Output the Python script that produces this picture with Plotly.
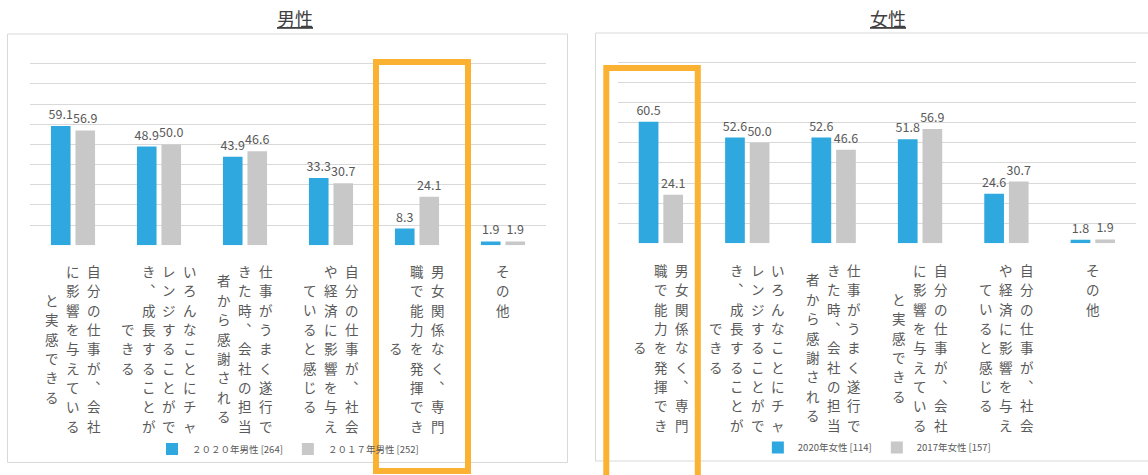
import plotly.graph_objects as go

W, H = 1148, 475

# ---------------- data ----------------
male_categories = [
    "自分の仕事が、会社に影響を与えていると実感できる",
    "いろんなことにチャレンジすることができ、成長することができる",
    "仕事がうまく遂行できた時、会社の担当者から感謝される",
    "自分の仕事が、社会や経済に影響を与えていると感じる",
    "男女関係なく、専門職で能力を発揮できる",
    "その他",
]
male_2020 = [59.1, 48.9, 43.9, 33.3, 8.3, 1.9]
male_2017 = [56.9, 50.0, 46.6, 30.7, 24.1, 1.9]

female_categories = [
    "男女関係なく、専門職で能力を発揮できる",
    "いろんなことにチャレンジすることができ、成長することができる",
    "仕事がうまく遂行できた時、会社の担当者から感謝される",
    "自分の仕事が、会社に影響を与えていると実感できる",
    "自分の仕事が、社会や経済に影響を与えていると感じる",
    "その他",
]
female_2020 = [60.5, 52.6, 52.6, 51.8, 24.6, 1.8]
female_2017 = [24.1, 50.0, 46.6, 56.9, 30.7, 1.9]

male_series = ["２０２０年男性 [264]", "２０１７年男性 [252]"]
female_series = ["2020年女性 [114]", "2017年女性 [157]"]
panel_titles = ["男性", "女性"]
y_ticks = list(range(0, 101, 10))

# ---------------- style ----------------
BLUE = "#2ea8df"
GRAY = "#c9c8c8"
ORANGE = "#fbb131"
TXT = "#595959"
GRID = "#d9d9d9"
FONT = "Noto Sans CJK JP"


def px(x):
    return x / W


def py(y):
    return 1 - y / H


fig = go.Figure()


def add_bars(cats, v20, v17, names, xa, ya, leg):
    for vals, name, col in ((v20, names[0], BLUE), (v17, names[1], GRAY)):
        fig.add_trace(go.Bar(
            x=cats, y=vals, name=name, marker=dict(color=col, line=dict(width=0)),
            xaxis=xa, yaxis=ya, legend=leg,
            texttemplate="%{y:.1f}", textposition="outside",
            outsidetextfont=dict(size=12.5, color=TXT, family=FONT),
            constraintext="none", cliponaxis=False, hoverinfo="x+y+name",
        ))


add_bars(male_categories, male_2020, male_2017, male_series, "x", "y", "legend")
add_bars(female_categories, female_2020, female_2017, female_series, "x2", "y2", "legend2")

# panel geometry (pixels)
panels = [
    dict(x0=30, x1=546, y0=245.3, y1=43.5, xa="x", top=261.0, tx=295, ty=18,
         box=(7.5, 34, 567.5, 462.5), leg_y=449),
    dict(x0=617.7, x1=1136, y0=243.3, y1=42.3, xa="x2", top=260.0, tx=888, ty=18,
         box=(595.5, 33, 1170, 461), leg_y=447.5),
]

axis_common = dict(showticklabels=False, showgrid=False, showline=False, ticks="",
                   zeroline=False, fixedrange=True)
yaxis_common = dict(range=[0, 100], tickvals=y_ticks, showticklabels=False, showgrid=True,
                    gridcolor=GRID, gridwidth=1, zeroline=False, showline=False, ticks="",
                    fixedrange=True)

layout_axes = {}
for i, p in enumerate(panels):
    sx = "" if i == 0 else "2"
    layout_axes["xaxis" + sx] = dict(domain=[px(p["x0"]), px(p["x1"])], anchor="y" + sx, **axis_common)
    layout_axes["yaxis" + sx] = dict(domain=[py(p["y0"]), py(p["y1"])], anchor="x" + sx, **yaxis_common)

annotations = []
shapes = []

# titles and boxes
for title, p in zip(panel_titles, panels):
    annotations.append(dict(text="<u>" + title + "</u>", x=px(p["tx"]), y=py(p["ty"]),
                            xref="paper", yref="paper", showarrow=False,
                            font=dict(size=18, color="#404040", family=FONT),
                            xanchor="center", yanchor="middle"))
    bx0, by0, bx1, by1 = p["box"]
    shapes.append(dict(type="rect", xref="paper", yref="paper", x0=px(bx0), x1=px(bx1),
                       y0=py(by0), y1=py(by1), line=dict(color=GRID, width=1), layer="below"))

# vertical (tategaki) category labels
PITCH = 19.4
COLGAP = 20.7
WRAP = 9
for cats, p in ((male_categories, panels[0]), (female_categories, panels[1])):
    for cat in cats:
        cols = [cat[k:k + WRAP] for k in range(0, len(cat), WRAP)]
        n = len(cols)
        maxlen = max(len(c) for c in cols)
        for j, col in enumerate(cols):
            xoff = ((n - 1) / 2 - j) * COLGAP
            start = p["top"] + (maxlen - len(col)) / 2 * PITCH
            for i, ch in enumerate(col):
                glyph = "︑" if ch == "、" else ch
                yc = start + i * PITCH + PITCH / 2
                annotations.append(dict(text=glyph, x=cat, xref=p["xa"], xshift=xoff,
                                        y=py(yc), yref="paper", showarrow=False,
                                        xanchor="center", yanchor="middle",
                                        font=dict(size=13.5, color=TXT, family=FONT)))

# highlight rectangles
shapes.append(dict(type="rect", xref="paper", yref="paper", x0=px(376), x1=px(468),
                   y0=py(62), y1=py(471), line=dict(color=ORANGE, width=6), layer="above"))
shapes.append(dict(type="rect", xref="paper", yref="paper", x0=px(606.3), x1=px(697.8),
                   y0=py(68), y1=py(495), line=dict(color=ORANGE, width=6), layer="above"))

legend_common = dict(orientation="h", xanchor="center", yanchor="middle",
                     font=dict(size=9.5, color=TXT, family=FONT), bgcolor="rgba(0,0,0,0)",
                     itemwidth=30, itemclick=False, itemdoubleclick=False)

fig.update_layout(
    width=W, height=H,
    margin=dict(l=0, r=0, t=0, b=0),
    paper_bgcolor="white", plot_bgcolor="white",
    barmode="group", bargap=0.43, bargroupgap=0.2,
    font=dict(family=FONT, color=TXT),
    showlegend=True,
    legend=dict(x=px((panels[0]["x0"] + panels[0]["x1"]) / 2), y=py(panels[0]["leg_y"]), **legend_common),
    legend2=dict(x=px((panels[1]["x0"] + panels[1]["x1"]) / 2), y=py(panels[1]["leg_y"]), **legend_common),
    annotations=annotations,
    shapes=shapes,
    **layout_axes,
)

fig.write_html(
    "out.html",
    config={"displayModeBar": False},
    post_script="document.body.style.margin='0';document.body.style.overflow='hidden';",
)
